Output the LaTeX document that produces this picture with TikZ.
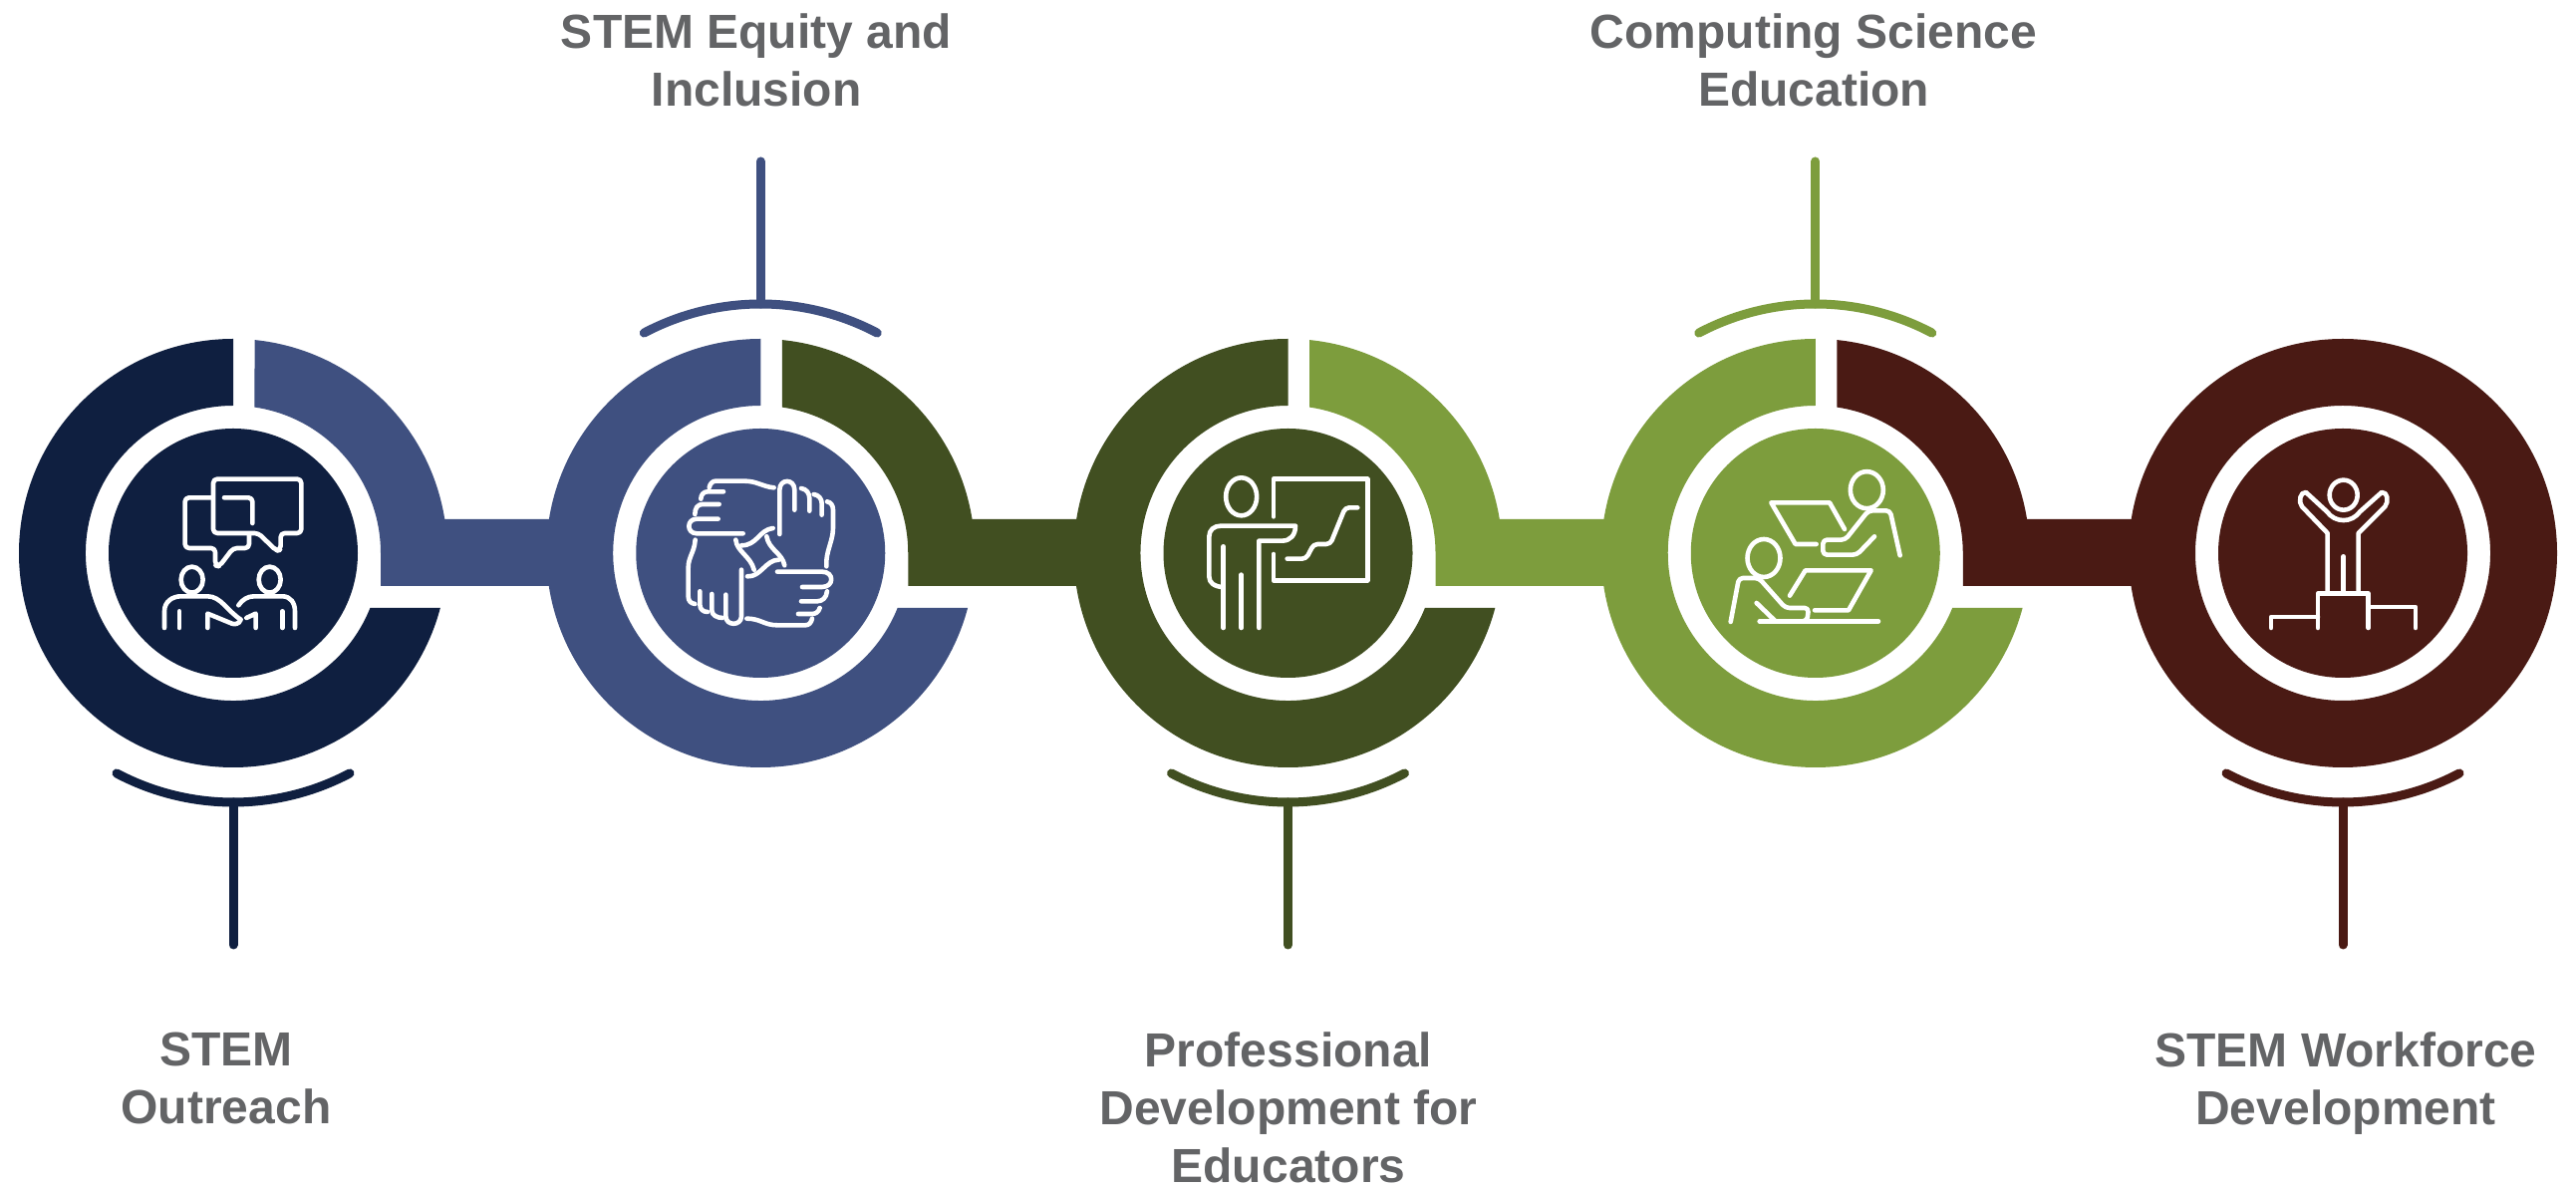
\documentclass[tikz,border=0pt]{standalone}
\usepackage{fontspec}
\setmainfont{Liberation Sans}
\definecolor{cNavy}{HTML}{0F1F40}
\definecolor{cBlue}{HTML}{3F5080}
\definecolor{cOlive}{HTML}{414F21}
\definecolor{cGreen}{HTML}{7D9D3D}
\definecolor{cMaroon}{HTML}{4A1A14}
\definecolor{cText}{HTML}{636466}
\tikzset{
  label text/.style={text=cText,font=\fontsize{48}{58}\selectfont\bfseries,align=center,inner sep=0pt,anchor=north},
  stem line/.style={line width=9pt,line cap=round},
  hub disc/.style={circle,minimum size=250pt,inner sep=0pt},
  icon/.style={draw=white,line width=4.6pt,line cap=round,line join=round},
  icon frame/.style={x=0.3333pt,y=-0.3333pt},
  rc/.style={rounded corners=4pt}
}
\begin{document}
\begin{tikzpicture}[x=1pt,y=1pt]
\useasboundingbox (0,0) rectangle (2585,1191);
\fill[white] (0,0) rectangle (2585,1191);
% rings and bridges
\foreach \i/\cA/\cB in {0/cNavy/cBlue,1/cBlue/cOlive,2/cOlive/cGreen,3/cGreen/cMaroon}{
  \begin{scope}[shift={({234+\i*529.25},636)}]
    \fill[\cA] (90:215) arc[start angle=90,end angle=345.2,radius=215] -- (338.2:148) arc[start angle=338.2,end angle=90,radius=148] -- cycle;
    \fill[\cB] (84.26:215) arc[start angle=84.26,end angle=9.1,radius=215] -- (340,34) -- (340,-33) -- (148,-33) -- (148,0) arc[start angle=0,end angle=81.65,radius=148] -- cycle;
  \end{scope}
}
\begin{scope}[shift={(2351,636)}]
  \fill[cMaroon,even odd rule] (0,0) circle[radius=215] (0,0) circle[radius=148];
\end{scope}
% hub discs
\node[hub disc,fill=cNavy] (hubA) at (234,636) {};
\node[hub disc,fill=cBlue] (hubB) at (763.25,636) {};
\node[hub disc,fill=cOlive] (hubC) at (1292.5,636) {};
\node[hub disc,fill=cGreen] (hubD) at (1821.75,636) {};
\node[hub disc,fill=cMaroon] (hubE) at (2351,636) {};
% arcs and stems
\foreach \n/\x/\c in {A/234/cNavy,C/1292.5/cOlive,E/2351/cMaroon}{
  \draw[\c,line width=9pt,line cap=round] ({\x},636) ++(242.1:250) arc[start angle=242.1,end angle=297.9,radius=250];
  \coordinate (top\n) at ({\x},386);
  \coordinate (end\n) at ({\x},243);
  \draw[stem line,draw=\c] (top\n) -- (end\n);
}
\foreach \n/\x/\c in {B/763.25/cBlue,D/1821.75/cGreen}{
  \draw[\c,line width=9pt,line cap=round] ({\x},636) ++(62.1:250) arc[start angle=62.1,end angle=117.9,radius=250];
  \coordinate (top\n) at ({\x},886);
  \coordinate (end\n) at ({\x},1029);
  \draw[stem line,draw=\c] (top\n) -- (end\n);
}
% labels
\node[label text] (labB) at (759,1191-14) {STEM Equity and\\Inclusion};
\node[label text] (labD) at (1820,1191-14) {Computing Science\\Education};
\node[label text] (labA) at (227,1191-1036) {STEM\\Outreach};
\node[label text] (labC) at (1293,1191-1036) {Professional\\Development for\\Educators};
\node[label text] (labE) at (2354,1191-1036) {STEM Workforce\\Development};
% icon 1
\begin{scope}[shift={(140,741)},icon frame]
  \draw[icon,rc] (220,148) -- (137,148) -- (137,300) -- (228,300) -- (228,352) -- (240,355) -- (282,300) -- (330,300) -- (330,262);
  \draw[icon,rc] (255,148) -- (340,148) -- (340,225);
  \draw[icon,rc] (222,92) -- (487,92) -- (487,255) -- (425,255) -- (425,305) -- (412,308) -- (358,255) -- (222,255) -- cycle;
  \draw[icon] (158,395) ellipse[x radius=11pt,y radius=13pt];
  \draw[icon] (392,395) ellipse[x radius=11pt,y radius=13pt];
  \draw[icon] (75,540) -- (75,490) .. controls (75,460) and (100,445) .. (125,445) -- (205,445) .. controls (245,445) and (265,490) .. (305,515) .. controls (300,530) and (285,530) .. (278,527) -- (205,497) -- (205,540);
  \draw[icon] (120,490) -- (120,540);
  \draw[icon] (298,472) .. controls (310,455) and (325,445) .. (345,445) -- (430,445) .. controls (455,445) and (468,465) .. (468,490) -- (468,540);
  \draw[icon] (430,490) -- (430,540);
  \draw[icon] (322,510) -- (350,497) -- (350,540);
\end{scope}
% icon 2
\begin{scope}[shift={(600,761)},icon frame]
  \draw[icon] (335,178) .. controls (338,165) and (345,158) .. (355,158) -- (440,158) .. controls (480,158) and (495,175) .. (530,178);
  \draw[icon] (378,190) -- (330,190) .. controls (318,190) and (310,200) .. (310,212);
  \draw[icon] (365,228) -- (315,228) .. controls (300,228) and (292,240) .. (292,258);
  \draw[icon] (362,272) -- (298,272) .. controls (266,272) and (266,316) .. (298,316) -- (437,316);
  \draw[icon] (293,335) .. controls (290,375) and (272,385) .. (272,420) -- (272,505) .. controls (272,520) and (280,526) .. (292,528);
  \draw[icon] (307,490) -- (307,530) .. controls (307,545) and (318,552) .. (330,552);
  \draw[icon] (343,498) -- (343,548) .. controls (343,562) and (360,570) .. (375,570);
  \draw[icon] (385,500) -- (385,565) .. controls (385,595) and (432,595) .. (432,565) -- (432,425);
  \draw[icon] (415,335) .. controls (418,370) and (460,385) .. (470,425);
  \draw[icon] (450,445) .. controls (490,448) and (505,395) .. (545,395);
  \draw[icon] (508,325) .. controls (515,365) and (555,375) .. (562,412);
  \draw[icon] (432,352) .. controls (480,352) and (485,305) .. (527,300);
  \draw[icon] (547,318) -- (547,185) .. controls (547,150) and (592,150) .. (592,185) -- (592,245);
  \draw[icon] (612,180) .. controls (628,182) and (637,195) .. (637,210) -- (637,248);
  \draw[icon] (650,198) .. controls (665,200) and (674,212) .. (674,225) -- (674,260);
  \draw[icon] (690,220) .. controls (702,222) and (708,232) .. (708,245) -- (708,300) .. controls (708,340) and (685,370) .. (688,415);
  \draw[icon] (540,431) -- (675,431) .. controls (712,431) and (712,477) .. (675,477) -- (615,477);
  \draw[icon] (690,490) .. controls (688,510) and (675,520) .. (660,520) -- (612,520);
  \draw[icon] (668,540) .. controls (665,552) and (655,558) .. (645,558) -- (603,558);
  \draw[icon] (645,572) .. controls (642,585) and (635,592) .. (625,592) -- (540,592) .. controls (500,592) and (490,572) .. (448,572);
\end{scope}
% icon 3
\begin{scope}[shift={(1150,741)},icon frame]
  \draw[icon] (287,145) ellipse[x radius=15.5pt,y radius=19pt];
  \draw[icon] (233,295) -- (233,540);
  \draw[icon] (233,418) .. controls (205,415) and (190,405) .. (190,385) -- (190,265) .. controls (190,245) and (205,233) .. (225,233) -- (450,233) .. controls (450,260) and (435,278) .. (410,278) -- (340,278) -- (340,540);
  \draw[icon] (287,380) -- (287,540);
  \draw[icon] (384,205) -- (384,92) -- (667,92) -- (667,397) -- (384,397) -- (384,318);
  \draw[icon,rc] (425,332) -- (482,332) -- (505,288) -- (555,288) -- (600,178) -- (637,178);
\end{scope}
% icon 4
\begin{scope}[shift={(1700,741)},icon frame]
  \draw[icon] (520,125) ellipse[x radius=16.5pt,y radius=18.5pt];
  \draw[icon] (453,243) -- (408,163) -- (232,163) -- (305,288) -- (368,288);
  \draw[icon,rc] (620,322) -- (590,187) -- (525,187) -- (455,275) -- (388,275) -- (388,320) -- (490,320) -- (543,265);
  \draw[icon] (210,330) ellipse[x radius=16.5pt,y radius=19pt];
  \draw[icon,rc] (110,522) -- (135,390) -- (195,390) -- (275,480) -- (345,480) -- (340,520) -- (320,520);
  \draw[icon] (197,520) -- (555,520);
  \draw[icon] (188,465) -- (243,518);
  \draw[icon] (288,443) -- (335,367) -- (533,367) -- (465,487) -- (363,487);
\end{scope}
% icon 5
\begin{scope}[shift={(2240,741)},icon frame]
  \draw[icon] (335,140) ellipse[x radius=14pt,y radius=15pt];
  \draw[icon] (287,430) -- (287,255) -- (210,175) .. controls (198,160) and (205,130) .. (222,132) -- (285,190) .. controls (310,225) and (360,225) .. (385,190) -- (450,132) .. controls (468,130) and (472,160) .. (460,175) -- (380,255) -- (380,430);
  \draw[icon] (335,325) -- (335,430);
  \draw[icon] (258,540) -- (258,437) -- (410,437) -- (410,540);
  \draw[icon] (117,540) -- (117,507) -- (258,507);
  \draw[icon] (410,477) -- (552,477) -- (552,540);
\end{scope}
\end{tikzpicture}
\end{document}
